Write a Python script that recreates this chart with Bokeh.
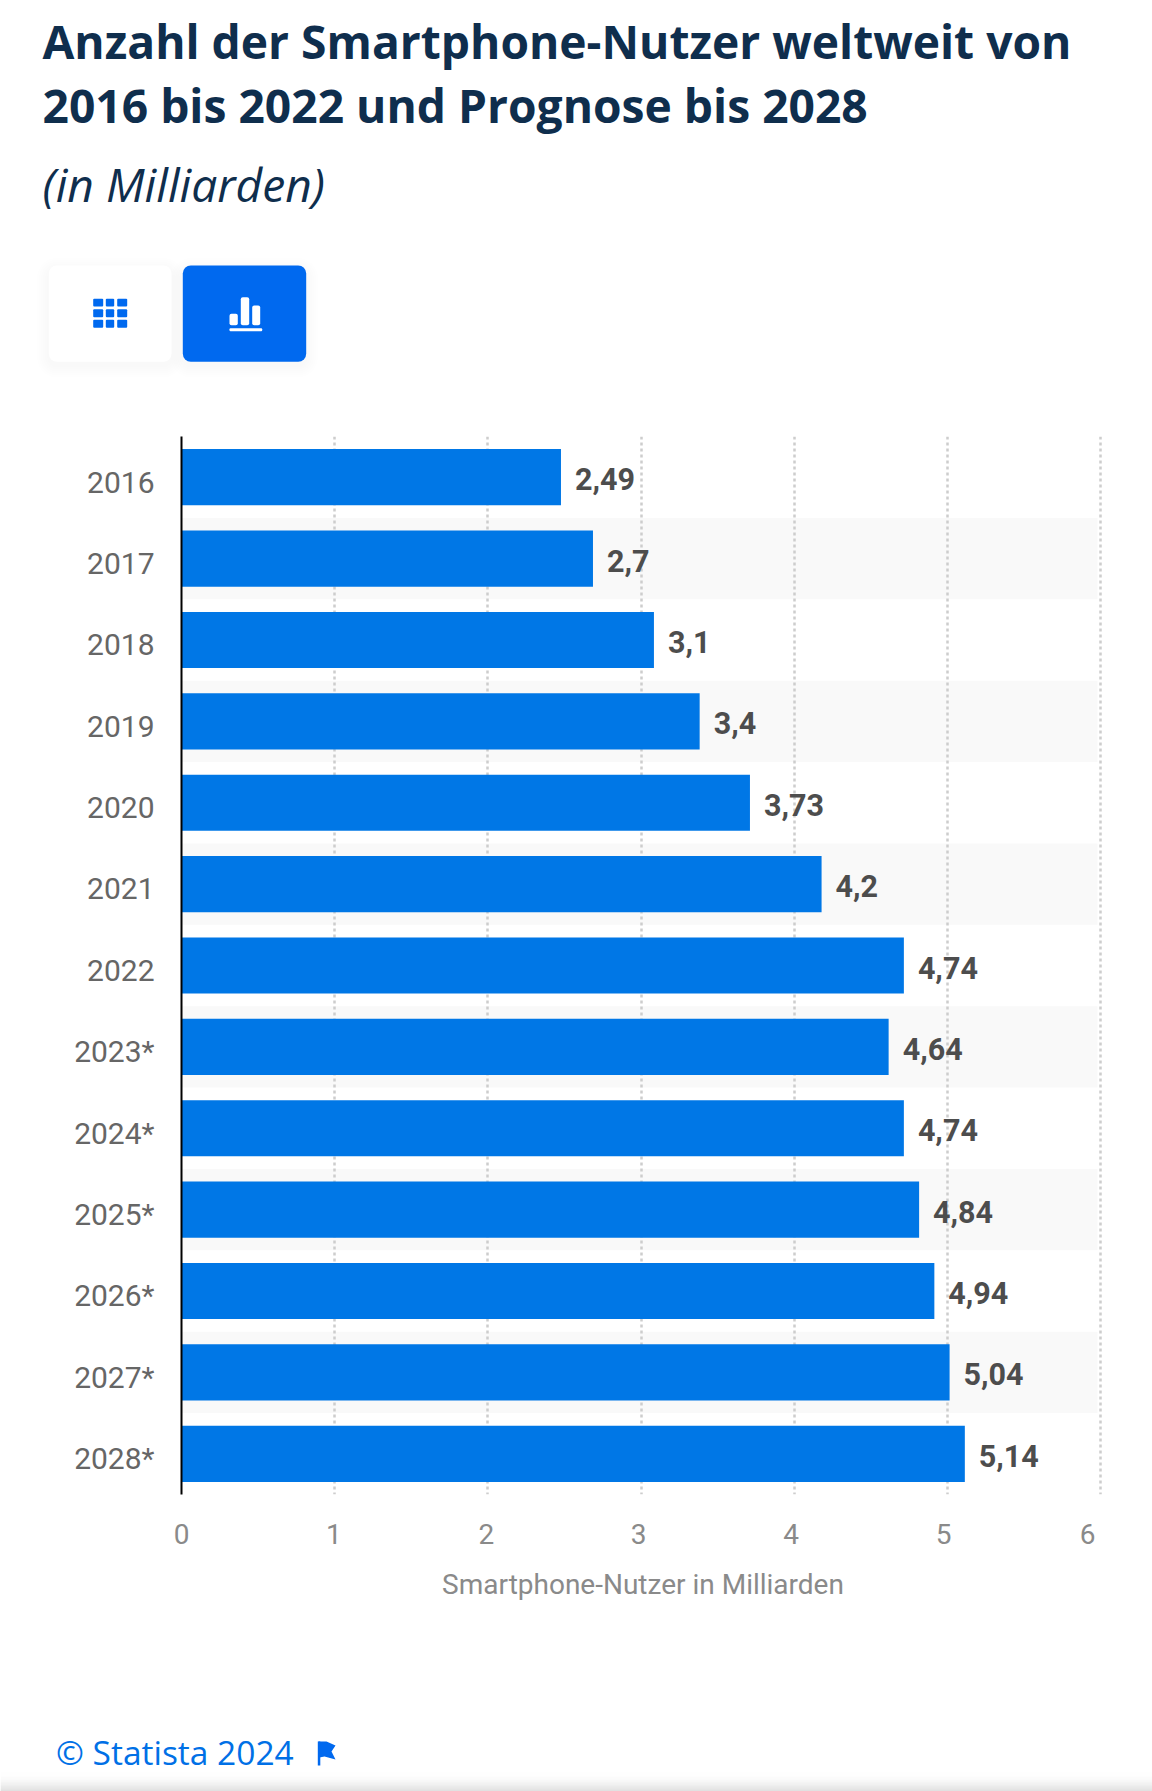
from bokeh.embed import file_html
from bokeh.resources import INLINE
from bokeh.plotting import figure
from bokeh.layouts import column
from bokeh.models import ColumnDataSource, Range1d, LinearAxis, FixedTicker, Grid
from bokeh.core.properties import value

years = ["2016", "2017", "2018", "2019", "2020", "2021", "2022",
         "2023*", "2024*", "2025*", "2026*", "2027*", "2028*"]
users = [2.49, 2.7, 3.1, 3.4, 3.73, 4.2, 4.74, 4.64, 4.74, 4.84, 4.94, 5.04, 5.14]
value_labels = ["2,49", "2,7", "3,1", "3,4", "3,73", "4,2", "4,74",
                "4,64", "4,74", "4,84", "4,94", "5,04", "5,14"]
grid_ticks = [0, 1, 2, 3, 4, 5, 6]
x_tick_labels = ["0", "1", "2", "3", "4", "5", "6"]
LAST_LABEL_AT = 5.945   # the "6" sits left of its grid line, inside the chart's edge

W = 1152
TOP, BOTTOM_PANEL = 436, 1620   # window y of chart top, and of the footer panel
FL, FR, FB = 181, 1104, 1494    # plot frame edges in window pixels
UNIT = 152.4                    # pixels per Milliarde for bars
GRID_UNIT = (1100 - FL) / 6     # the grid lines run on a slightly wider scale than the bars
BAND_RIGHT = 1097
X_END = (FR - FL) / UNIT

positions = list(range(len(years)))
band_positions = positions[1::2]


def panel(y0, y1):
    f = figure(width=W, height=y1 - y0, output_backend="svg", toolbar_location=None,
               x_range=Range1d(0, W), y_range=Range1d(y1, y0),
               min_border=0, x_axis_location=None, y_axis_location=None, frame_align=False)
    f.outline_line_color = None
    f.xgrid.visible = False
    f.ygrid.visible = False
    f.border_fill_color = "white"
    f.background_fill_color = "white"
    return f


def label(f, x, y, s, size, color, font="Open Sans", style="normal"):
    f.text(x=[x], y=[y], text=[s], text_font=value(font), text_font_size=size,
           text_color=color, text_font_style=style, text_baseline="alphabetic", text_align="left")


def box(f, l, t, r, b, color, radius=0, alpha=1.0):
    f.quad(left=[l], right=[r], top=[t], bottom=[b], fill_color=color, fill_alpha=alpha,
           line_color=None, border_radius=radius)


# ---------- header ----------
NAVY = "#0f2e4d"
BLUE = "#0069ef"
head = panel(0, TOP)
label(head, 42, 41, "Anzahl der Smartphone-Nutzer weltweit von", "46.2px", NAVY, style="bold")
label(head, 42, 105, "2016 bis 2022 und Prognose bis 2028", "46.2px", NAVY, style="bold")
label(head, 42, 184, "(in Milliarden)", "46.2px", NAVY, style="italic")

for l, r in ((48.3, 171), (182.3, 305.7)):
    for i in range(12, 0, -2):
        box(head, l - i, 265 - i + 4, r + i, 361.3 + i + 4, "#000000", radius=8 + i, alpha=0.005)
box(head, 48.3, 265, 171, 361.3, "#ffffff", radius=8)
box(head, 182.3, 265, 305.7, 361.3, BLUE, radius=8)
for c0, c1 in ((92.7, 102.7), (105.3, 113.7), (116.7, 126.7)):
    for r0, r1 in ((298.3, 306), (308.7, 316.7), (319.3, 327.3)):
        box(head, c0, r0, c1, r1, BLUE, radius=1)
for c0, c1, t in ((229, 237.3, 313.3), (240.3, 248.7, 296.7), (251.7, 259.7, 305)):
    box(head, c0, t, c1, 324.7, "white", radius=2)
box(head, 229, 327.7, 261.7, 330.7, "white", radius=1)

# ---------- chart ----------
p = figure(width=W, height=BOTTOM_PANEL - TOP, output_backend="svg", toolbar_location=None,
           x_range=Range1d(0, X_END), y_range=Range1d(12.5, -0.5),
           min_border_left=FL, min_border_right=W - FR, min_border_top=0,
           min_border_bottom=BOTTOM_PANEL - FB, frame_align=False,
           x_axis_location=None, y_axis_location=None)
p.outline_line_color = None
p.border_fill_color = "white"
p.background_fill_color = "white"
p.xgrid.visible = False
p.ygrid.visible = False

# category labels sit slightly under the centre of their bars
p.extra_y_ranges["labels"] = Range1d(12.44, -0.56)
yaxis = LinearAxis(y_range_name="labels", ticker=FixedTicker(ticks=positions),
                   major_label_overrides={i: y for i, y in zip(positions, years)},
                   axis_line_color="black", axis_line_width=2,
                   major_tick_line_color=None, minor_tick_line_color=None,
                   major_label_text_font="Roboto", major_label_text_font_size="30px",
                   major_label_text_color="#666666", major_label_standoff=21)
p.add_layout(yaxis, "left")

label_ticks = grid_ticks[:-1] + [LAST_LABEL_AT]
xaxis = LinearAxis(ticker=FixedTicker(ticks=label_ticks),
                   major_label_overrides={t: s for t, s in zip(label_ticks, x_tick_labels)},
                   axis_line_color=None, major_tick_line_color=None, minor_tick_line_color=None,
                   major_label_text_font="Roboto", major_label_text_font_size="28px",
                   major_label_text_color="#8a8a8a", major_label_standoff=23,
                   axis_label="Smartphone-Nutzer in Milliarden", axis_label_text_font="Roboto",
                   axis_label_text_font_size="28px", axis_label_text_color="#8a8a8a",
                   axis_label_text_font_style="normal", axis_label_standoff=21)
p.add_layout(xaxis, "below")

p.extra_x_ranges["ticks"] = Range1d(0, (FR - FL) / GRID_UNIT)
p.add_layout(Grid(dimension=0, x_range_name="ticks", ticker=FixedTicker(ticks=grid_ticks),
                  grid_line_color="#cdcdcd", grid_line_width=2.5, grid_line_dash="3 3"))

p.hbar(y=band_positions, left=0, right=(BAND_RIGHT - FL) / UNIT, height=1.0,
       fill_color="#f9f9f9", line_color=None, level="image")

src = ColumnDataSource(dict(y=positions, x=users, t=value_labels))
p.hbar(y="y", left=0, right="x", height=0.69, source=src, fill_color="#0077e6", line_color=None)
p.text(x="x", y="y", text="t", source=src, x_offset=14, y_offset=2, text_baseline="middle",
       text_font=value("Roboto"), text_font_size="30.5px", text_font_style="bold", text_color="#4d4d4d")

# ---------- footer ----------
foot = panel(BOTTOM_PANEL, 1791)
label(foot, 55.5, 1751, "© Statista 2024", "33.5px", "#0070e6")
box(foot, 317.3, 1741, 319.8, 1765, BLUE)
foot.patch(x=[318, 326, 335, 331, 335, 324, 319], y=[1741, 1741, 1745, 1751, 1759, 1756, 1757],
           fill_color=BLUE, line_color=None)
for k in range(19):
    g = int(255 - 42 * ((k + 1) / 19) ** 2)
    box(foot, 0, 1772 + k, W, 1773 + k, "#%02x%02x%02x" % (g, g, g))

open("out.html", "w").write(file_html(column(head, p, foot, spacing=0), INLINE))
